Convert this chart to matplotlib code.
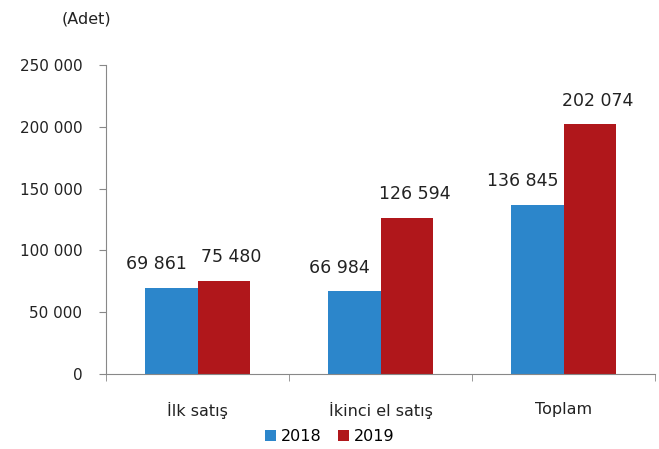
import matplotlib
matplotlib.use("Agg")
import matplotlib.pyplot as plt
import numpy as np

# chart data
categories = ["İlk satış", "İkinci el satış", "Toplam"]
series_names = ["2018", "2019"]
values_2018 = [69861, 66984, 136845]
values_2019 = [75480, 126594, 202074]
y_ticks = [0, 50000, 100000, 150000, 200000, 250000]

colors = ["#2C86CB", "#B0171B"]

plt.rcParams['font.family'] = ['DejaVu Sans']


def fmt(v):
    return f"{v:,}".replace(",", " ")


fig = plt.figure(figsize=(6.59, 4.49), dpi=100)
ax = fig.add_axes([0.161, 0.167, 0.833, 0.688])

x = np.arange(len(categories))
w = 0.285
# label shifts (px) so that neighbouring labels don't collide, as in the original
label_dx = [-15, 8]
for i, (vals, name) in enumerate(zip([values_2018, values_2019], series_names)):
    bars = ax.bar(x + (i - 0.5) * w, vals, width=w, color=colors[i], label=name)
    for b, v in zip(bars, vals):
        ax.annotate(fmt(v), (b.get_x() + b.get_width() / 2, v),
                    xytext=(label_dx[i] * 0.72, 17), textcoords="offset points",
                    ha="center", va="center", fontsize=12.5, color="#222222")

ax.set_xlim(-0.5, len(categories) - 0.5)
ax.set_ylim(0, 250000)
ax.set_yticks(y_ticks)
ax.set_yticklabels([fmt(t) for t in y_ticks], fontsize=11, color="#222222")
ax.set_xticks(x)
ax.set_xticklabels(categories, fontsize=11.5, color="#222222")
ax.tick_params(axis="x", length=0, pad=20)
ax.set_xticks(np.arange(len(categories) + 1) - 0.5, minor=True)
ax.tick_params(axis="x", which="minor", length=5, color="#888888")
ax.tick_params(axis="y", length=5, color="#888888", pad=12)

for s in ["top", "right"]:
    ax.spines[s].set_visible(False)
for s in ["left", "bottom"]:
    ax.spines[s].set_color("#888888")

fig.text(0.093, 0.957, "(Adet)", fontsize=11.5, ha="left", va="center", color="#222222")

fig.legend(loc="center", bbox_to_anchor=(0.5, 0.027), ncol=2, frameon=False,
           fontsize=11.5, handlelength=0.7, handleheight=0.7, handletextpad=0.3,
           columnspacing=1.0)

fig.savefig("out.png", dpi=100)
